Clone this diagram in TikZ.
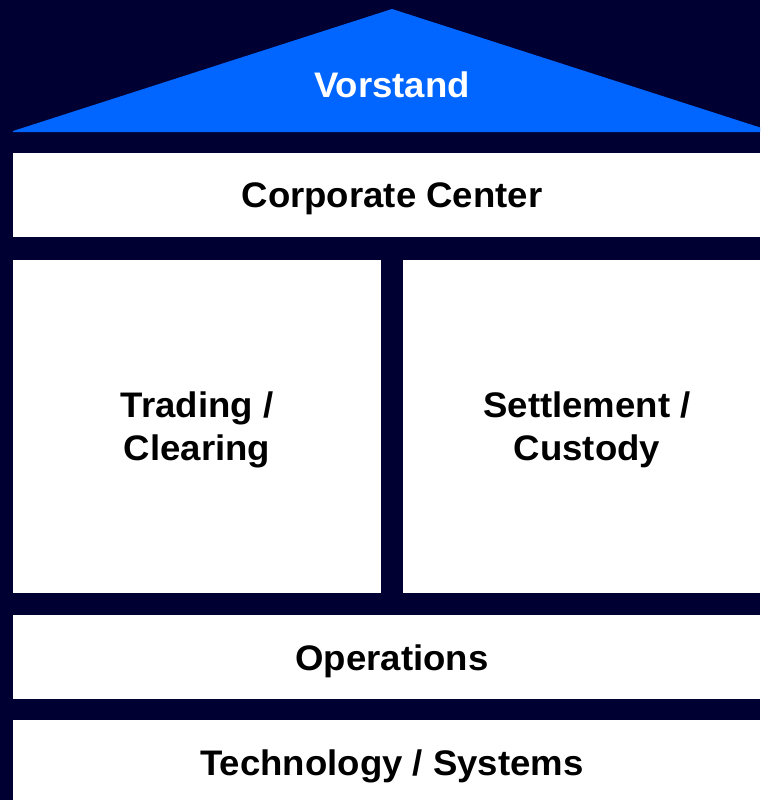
\documentclass[tikz,border=0pt]{standalone}
\usepackage{fontspec}
\newfontfamily\labelfont[FakeStretch=1.03]{Liberation Sans}
\definecolor{bgnavy}{HTML}{000033}
\definecolor{roofblue}{HTML}{0066FF}
\begin{document}
\begin{tikzpicture}[x=1pt,y=-1pt,
  lbl/.style={anchor=base,inner sep=0pt,font=\labelfont\bfseries\fontsize{35.5}{43}\selectfont,text=black},
  panel/.style={fill=white}]
\useasboundingbox (0,0) rectangle (760,800);
\clip (0,0) rectangle (760,800);
\fill[bgnavy] (0,0) rectangle (760,800);
% roof
\fill[roofblue] (13,132) -- (13,131) -- (392,9) -- (771,131) -- (771,132) -- cycle;
\node[lbl,text=white] (vorstand) at (392,97) {Vorstand};
% panels
\fill[panel] (13,153) rectangle (771,237);
\node[lbl] (cc) at (392,207) {Corporate Center};
\fill[panel] (13,260) rectangle (381,593);
\fill[panel] (403,260) rectangle (771,593);
\node[lbl] (tc1) at (197,417) {Trading /};
\node[lbl] (tc2) at (197,460) {Clearing};
\node[lbl] (sc1) at (587,417) {Settlement /};
\node[lbl] (sc2) at (587,460) {Custody};
\fill[panel] (13,615) rectangle (771,699);
\node[lbl] (ops) at (392,670) {Operations};
\fill[panel] (13,720) rectangle (771,804);
\node[lbl] (tech) at (392,775) {Technology / Systems};
\end{tikzpicture}
\end{document}
